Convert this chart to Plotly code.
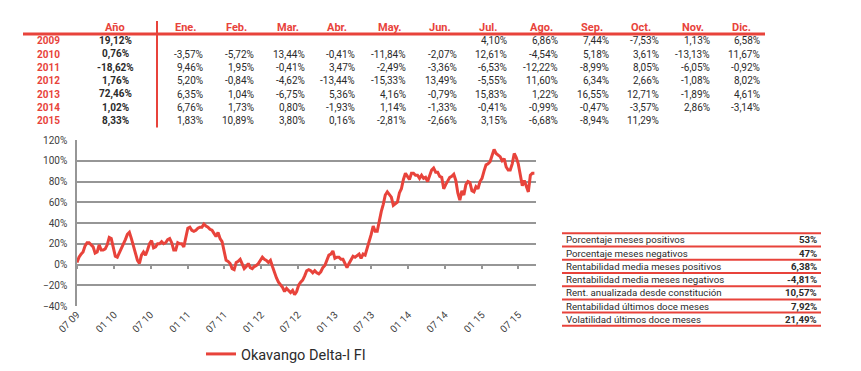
import plotly.graph_objects as go
import pandas as pd

# ---------------- data ----------------
years = ["2009", "2010", "2011", "2012", "2013", "2014", "2015"]
year_totals = ["19,12%", "0,76%", "-18,62%", "1,76%", "72,46%", "1,02%", "8,33%"]
month_labels = ["Ene.", "Feb.", "Mar.", "Abr.", "May.", "Jun.",
                "Jul.", "Ago.", "Sep.", "Oct.", "Nov.", "Dic."]
ret_2009 = [None, None, None, None, None, None, 4.10, 6.86, 7.44, -7.53, 1.13, 6.58]
ret_2010 = [-3.57, -5.72, 13.44, -0.41, -11.84, -2.07, 12.61, -4.54, 5.18, 3.61, -13.13, 11.67]
ret_2011 = [9.46, 1.95, -0.41, 3.47, -2.49, -3.36, -6.53, -12.22, -8.99, 8.05, -6.05, -0.92]
ret_2012 = [5.20, -0.84, -4.62, -13.44, -15.33, 13.49, -5.55, 11.60, 6.34, 2.66, -1.08, 8.02]
ret_2013 = [6.35, 1.04, -6.75, 5.36, 4.16, -0.79, 15.83, 1.22, 16.55, 12.71, -1.89, 4.61]
ret_2014 = [6.76, 1.73, 0.80, -1.93, 1.14, -1.33, -0.41, -0.99, -0.47, -3.57, 2.86, -3.14]
ret_2015 = [1.83, 10.89, 3.80, 0.16, -2.81, -2.66, 3.15, -6.68, -8.94, 11.29, None, None]
monthly_rows = [ret_2009, ret_2010, ret_2011, ret_2012, ret_2013, ret_2014, ret_2015]

stats_labels = ["Porcentaje meses positivos", "Porcentaje meses negativos",
                "Rentabilidad media meses positivos", "Rentabilidad media meses negativos",
                "Rent. anualizada desde constitución", "Rentabilidad últimos doce meses",
                "Volatilidad últimos doce meses"]
stats_values = ["53%", "47%", "6,38%", "-4,81%", "10,57%", "7,92%", "21,49%"]

series_name = "Okavango Delta-I FI"
series_start = "2009-07-01"
series_step = "10D"
series_values = [
    2, 7, 10, 12, 18, 21, 21, 19, 17, 11,
    12, 19, 14, 14, 15, 19, 26, 25, 17, 8,
    7, 11, 15, 20, 24, 29, 31, 25, 18, 11,
    4, 1, 9, 12, 9, 14, 20, 23, 16, 17,
    20, 20, 22, 20, 21, 24, 25, 21, 14, 14,
    21, 20, 20, 17, 28, 35, 36, 33,
    32, 33, 35, 36, 36, 39, 37, 36, 34, 33,
    30, 27, 31, 25, 22, 12, 4, 3, 1, -4,
    -5, 2, 3, 5, 0, -4, -2, 1, -3, -4,
    -2, -1, 1, 4, 7, 5, 4, 2, 4, -2,
    -8, -13, -17, -19, -22, -26, -23, -25, -27, -25,
    -29, -26, -20, -17, -15, -11, -6, -5,
    -6, -8, -6, -8, -9, -7, -3, -1, 4, 9,
    10, 13, 6, 7, 7, 5, 5, 1, -3, 1,
    5, 8, 7, 9, 10, 6, 10, 9, 15, 23,
    29, 37, 32, 32, 42, 51, 58, 67, 70, 67,
    65, 57, 59, 60, 69, 73, 82, 88, 85, 82,
    88, 88, 86, 86, 83, 86,
    83, 84, 80, 86, 91, 93, 89, 89, 85, 84,
    73, 77, 81, 84, 85, 87, 81, 69, 62, 71,
    67, 77, 80, 79, 71, 70, 75, 73, 80, 83,
    90, 96, 97, 99, 105, 111, 107, 105, 104, 100,
    102, 94, 91, 91, 97, 107, 103, 97, 88, 76,
    81, 75, 70, 86, 88, 88,
]
x_range = ["2009-07-01", "2015-09-26"]
y_range = [-40, 120]

# ---------------- style ----------------
RED = "#e8433b"
TXT = "#2b2b2b"
GRID = "#969696"
FONT = "Roboto"

W, H = 861, 371
L, R, T, B = 77, 536, 140, 306  # plot area in pixels


def X(px):
    return (px - L) / (R - L)


def Y(py):
    return (B - py) / (B - T)


def fmt(v):
    return f"{v:.2f}".replace(".", ",") + "%"


dates = pd.date_range(series_start, periods=len(series_values), freq=series_step)

fig = go.Figure()
fig.add_trace(go.Scatter(
    x=dates, y=series_values, mode="lines", name=series_name,
    line=dict(color=RED, width=3), hoverinfo="skip",
))
# invisible trace on a second x axis that draws tick marks on the 0 % line
fig.add_trace(go.Scatter(
    x=dates, y=series_values, mode="lines", xaxis="x2", showlegend=False,
    line=dict(color="rgba(0,0,0,0)", width=0), hoverinfo="skip",
))

annotations = []
shapes = []

# ---- monthly table ----
row_y = [41, 54.3, 67.6, 80.9, 94.2, 107.5, 120.8]
head_y = 27.7
col_right = [205, 256, 306.7, 357.3, 407.7, 459, 509.3, 560, 610.7, 661, 711.7, 762.3]

annotations.append(dict(x=X(115), y=Y(head_y), text="<b>Año</b>", xanchor="center",
                        yanchor="middle", font=dict(family=FONT, size=11, color=RED)))
for j, m in enumerate(month_labels):
    annotations.append(dict(x=X(col_right[j] - 32), y=Y(head_y), text=f"<b>{m}</b>",
                            xanchor="left", yanchor="middle",
                            font=dict(family=FONT, size=11, color=RED)))
for i, yr in enumerate(years):
    annotations.append(dict(x=X(48), y=Y(row_y[i]), text=f"<b>{yr}</b>", xanchor="center",
                            yanchor="middle", font=dict(family=FONT, size=10, color=RED)))
    annotations.append(dict(x=X(115), y=Y(row_y[i]), text=f"<b>{year_totals[i]}</b>",
                            xanchor="center", yanchor="middle",
                            font=dict(family=FONT, size=10, color=TXT)))
    for j, v in enumerate(monthly_rows[i]):
        if v is None:
            continue
        annotations.append(dict(x=X(col_right[j]), y=Y(row_y[i]), text=fmt(v),
                                xanchor="right", yanchor="middle",
                                font=dict(family=FONT, size=10, color=TXT)))

shapes.append(dict(type="line", xref="paper", yref="paper", x0=X(23), x1=X(765),
                   y0=Y(34), y1=Y(34), line=dict(color=RED, width=3)))
shapes.append(dict(type="line", xref="paper", yref="paper", x0=X(157), x1=X(157),
                   y0=Y(21), y1=Y(127.5), line=dict(color=RED, width=2)))

# ---- statistics table ----
stat_lines = [233.3, 246.6, 259.8, 273, 286.2, 299.4, 312.6, 325.8]
for k, yy in enumerate(stat_lines):
    shapes.append(dict(type="line", xref="paper", yref="paper", x0=X(562), x1=X(821),
                       y0=Y(yy), y1=Y(yy), line=dict(color=RED, width=2)))
for k, lab in enumerate(stats_labels):
    yc = (stat_lines[k] + stat_lines[k + 1]) / 2
    annotations.append(dict(x=X(564), y=Y(yc), text=lab, xanchor="left", yanchor="middle",
                            font=dict(family=FONT, size=9.7, color=TXT)))
    annotations.append(dict(x=X(819), y=Y(yc), text=f"<b>{stats_values[k]}</b>",
                            xanchor="right", yanchor="middle",
                            font=dict(family=FONT, size=9.7, color=TXT)))

for a in annotations:
    a.update(xref="paper", yref="paper", showarrow=False)

fig.update_layout(
    width=W, height=H,
    margin=dict(l=L, r=W - R, t=T, b=H - B, autoexpand=False),
    paper_bgcolor="white", plot_bgcolor="white",
    font=dict(family=FONT, color=TXT),
    xaxis=dict(
        type="date", range=x_range, tick0="2009-07-01", dtick="M6", tickformat="%m %y",
        tickangle=-45, showgrid=False, showline=False, zeroline=False, ticks="",
        tickfont=dict(family=FONT, size=10, color="#404040"),
    ),
    xaxis2=dict(
        type="date", overlaying="x", matches="x", anchor="free", position=Y(264.3),
        side="bottom", tick0="2009-07-01", dtick="M6", ticks="outside", ticklen=4,
        tickwidth=1.5, tickcolor=GRID, showticklabels=False, showgrid=False,
        showline=False, zeroline=False,
    ),
    yaxis=dict(
        range=y_range, dtick=20, ticksuffix="%", showgrid=True, gridcolor=GRID,
        gridwidth=1.5, zeroline=False, showline=True, linecolor=GRID, linewidth=1.5,
        ticks="", ticklabelstandoff=6,
        tickfont=dict(family=FONT, size=10, color="#404040"),
    ),
    showlegend=True,
    legend=dict(orientation="h", x=X(201), y=Y(354), xanchor="left", yanchor="middle",
                font=dict(family=FONT, size=14.5, color=TXT), bgcolor="rgba(0,0,0,0)"),
    annotations=annotations,
    shapes=shapes,
)

fig.write_html("out.html", config={"displayModeBar": False},
               post_script="document.body.style.margin='0';")
